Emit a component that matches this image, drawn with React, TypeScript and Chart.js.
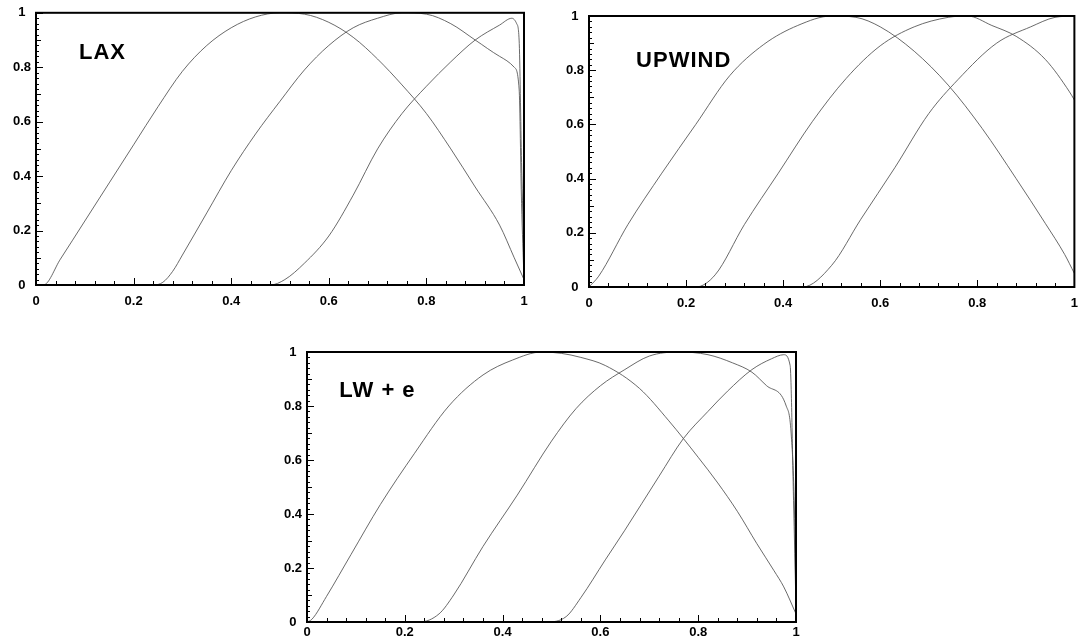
import React, { useEffect, useRef } from 'react';
import { Chart, registerables } from 'chart.js';

Chart.register(...registerables);

// ---------- tick labels ----------
const xTickValues = [0, 0.2, 0.4, 0.6, 0.8, 1];
const xTickLabels = ['0', '0.2', '0.4', '0.6', '0.8', '1'];
const yTickValues = [0, 0.2, 0.4, 0.6, 0.8, 1];
const yTickLabels = ['0', '0.2', '0.4', '0.6', '0.8', '1'];

// ---------- panel titles ----------
const panelTitles = ['LAX', 'UPWIND', 'LW + e'];

// ---------- LAX ----------
const laxAx = [0, 0.015, 0.05, 0.1, 0.15, 0.2, 0.25, 0.3, 0.35, 0.4, 0.45, 0.5, 0.55, 0.6, 0.65, 0.7, 0.75, 0.8, 0.85, 0.9, 0.95, 0.98, 1.0];
const laxAy = [0, 0.0, 0.095, 0.235, 0.375, 0.515, 0.655, 0.785, 0.88, 0.945, 0.985, 1.0, 0.995, 0.965, 0.91, 0.83, 0.735, 0.63, 0.5, 0.36, 0.22, 0.1, 0.02];
const laxBx = [0, 0.24, 0.26, 0.28, 0.3, 0.35, 0.4, 0.45, 0.5, 0.55, 0.6, 0.65, 0.7, 0.75, 0.8, 0.85, 0.9, 0.95, 0.98, 0.99, 0.995, 1.0];
const laxBy = [0, 0, 0.01, 0.05, 0.11, 0.265, 0.42, 0.555, 0.675, 0.79, 0.88, 0.945, 0.98, 1.0, 0.995, 0.96, 0.9, 0.84, 0.8, 0.72, 0.3, 0.02];
const laxCx = [0, 0.48, 0.51, 0.55, 0.6, 0.65, 0.7, 0.75, 0.8, 0.85, 0.9, 0.95, 0.975, 0.985, 0.99, 0.995, 1.0];
const laxCy = [0, 0, 0.02, 0.08, 0.18, 0.33, 0.5, 0.63, 0.73, 0.82, 0.9, 0.955, 0.98, 0.96, 0.9, 0.45, 0.1];

// ---------- UPWIND ----------
const upAx = [0, 0.02, 0.08, 0.15, 0.22, 0.29, 0.36, 0.43, 0.5, 0.55, 0.6, 0.67, 0.74, 0.81, 0.88, 0.94, 0.98, 1.0];
const upAy = [0, 0.04, 0.23, 0.42, 0.6, 0.78, 0.895, 0.965, 1.0, 0.995, 0.96, 0.87, 0.745, 0.585, 0.4, 0.235, 0.12, 0.05];
const upBx = [0, 0.22, 0.26, 0.32, 0.39, 0.46, 0.53, 0.6, 0.67, 0.74, 0.78, 0.83, 0.88, 0.94, 0.99, 1.0];
const upBy = [0, 0, 0.045, 0.23, 0.42, 0.61, 0.77, 0.89, 0.96, 0.995, 1.0, 0.965, 0.925, 0.84, 0.72, 0.69];
const upCx = [0, 0.44, 0.5, 0.56, 0.63, 0.7, 0.76, 0.84, 0.91, 0.96, 1.0];
const upCy = [0, 0, 0.08, 0.25, 0.44, 0.64, 0.765, 0.9, 0.96, 0.995, 1.0];

// ---------- LW+e ----------
const lweAx = [0, 0.01, 0.04, 0.09, 0.15, 0.22, 0.29, 0.36, 0.42, 0.48, 0.52, 0.56, 0.61, 0.68, 0.74, 0.8, 0.84, 0.88, 0.92, 0.955, 0.975, 1.0];
const lweAy = [0, 0.01, 0.095, 0.25, 0.435, 0.625, 0.8, 0.915, 0.97, 1.0, 0.995, 0.98, 0.95, 0.865, 0.745, 0.61, 0.515, 0.41, 0.29, 0.19, 0.13, 0.03];
const lweBx = [0, 0.23, 0.27, 0.3, 0.36, 0.43, 0.5, 0.55, 0.6, 0.65, 0.7, 0.76, 0.82, 0.87, 0.91, 0.94, 0.98, 0.99, 0.997, 1.0];
const lweBy = [0, 0, 0.03, 0.1, 0.28, 0.47, 0.67, 0.79, 0.875, 0.935, 0.985, 1.0, 0.99, 0.96, 0.925, 0.875, 0.8, 0.7, 0.4, 0.05];
const lweCx = [0, 0.49, 0.53, 0.56, 0.61, 0.65, 0.72, 0.77, 0.82, 0.86, 0.91, 0.95, 0.975, 0.988, 0.995, 1.0];
const lweCy = [0, 0, 0.02, 0.09, 0.23, 0.34, 0.54, 0.68, 0.78, 0.855, 0.935, 0.975, 0.99, 0.95, 0.45, 0.05];

const FONT = '"Liberation Sans", Arial, Helvetica, sans-serif';

type PanelDef = {
  title: string;
  left: number; top: number; width: number; height: number;
  padTop: number; padRight: number; yWidth: number; xHeight: number; xPad: number;
  titleAt: [number, number];
  curves: [number[], number[]][];
};

const panels: PanelDef[] = [
  { title: panelTitles[0], left: 0, top: 0, width: 540, height: 320, padTop: 12, padRight: 16, yWidth: 36, xHeight: 35, xPad: 9, titleAt: [0.088, 0.853], curves: [[laxAx, laxAy], [laxBx, laxBy], [laxCx, laxCy]] },
  { title: panelTitles[1], left: 553, top: 0, width: 534, height: 320, padTop: 16, padRight: 10, yWidth: 36, xHeight: 33, xPad: 9, titleAt: [0.097, 0.834], curves: [[upAx, upAy], [upBx, upBy], [upCx, upCy]] },
  { title: panelTitles[2], left: 271, top: 330, width: 540, height: 311, padTop: 22, padRight: 15, yWidth: 36, xHeight: 19, xPad: 3, titleAt: [0.066, 0.856], curves: [[lweAx, lweAy], [lweBx, lweBy], [lweCx, lweCy]] },
];

const xMinor: number[] = [];
for (let i = 0; i <= 25; i++) xMinor.push(i * 0.04);
const yMinor: number[] = [];
for (let i = 0; i <= 50; i++) yMinor.push(i * 0.02);

const framePlugin = {
  id: 'pawFrame',
  afterDatasetsDraw(chart: any) {
    const { ctx, chartArea: a, scales } = chart;
    const x = scales.x, y = scales.y;
    ctx.save();
    ctx.strokeStyle = '#000';
    ctx.lineWidth = 1;
    ctx.beginPath();
    xMinor.forEach((v, i) => {
      const px = Math.round(x.getPixelForValue(v)) + 0.5;
      const len = i % 5 === 0 ? 7 : 4;
      ctx.moveTo(px, a.bottom);
      ctx.lineTo(px, a.bottom - len);
    });
    yMinor.forEach((v, i) => {
      const py = Math.round(y.getPixelForValue(v)) + 0.5;
      const len = i % 10 === 0 ? 7 : i % 5 === 0 ? 5 : 3;
      ctx.moveTo(a.left, py);
      ctx.lineTo(a.left + len, py);
    });
    ctx.stroke();
    ctx.lineWidth = 2;
    ctx.strokeRect(a.left, a.top, a.right - a.left, a.bottom - a.top);
    const t = chart.options.plugins.pawFrame;
    if (t && t.title) {
      ctx.fillStyle = '#000';
      ctx.font = `bold 22px ${FONT}`;
      try { (ctx as any).letterSpacing = '1px'; } catch (e) { /* ignore */ }
      ctx.textAlign = 'left';
      ctx.textBaseline = 'middle';
      ctx.fillText(t.title, x.getPixelForValue(t.at[0]), y.getPixelForValue(t.at[1]));
    }
    ctx.restore();
  },
};

function Panel({ def }: { def: PanelDef }) {
  const ref = useRef<HTMLCanvasElement | null>(null);
  useEffect(() => {
    if (!ref.current) return;
    const datasets = def.curves.map(([xs, ys]) => ({
      data: xs.map((xv, i) => ({ x: xv, y: ys[i] })),
      borderColor: 'rgba(80,80,80,0.85)',
      borderWidth: 1,
      pointRadius: 0,
      fill: false,
      cubicInterpolationMode: 'monotone' as const,
      clip: 3,
    }));
    const chart = new Chart(ref.current, {
      type: 'line',
      data: { datasets },
      plugins: [framePlugin],
      options: {
        responsive: false,
        animation: false,
        events: [],
        layout: { padding: { top: def.padTop, right: def.padRight, left: 0, bottom: 0 } },
        plugins: {
          legend: { display: false },
          tooltip: { enabled: false },
          pawFrame: { title: def.title, at: def.titleAt },
        } as any,
        scales: {
          x: {
            type: 'linear',
            min: 0,
            max: 1,
            afterBuildTicks: (s: any) => { s.ticks = xTickValues.map((v) => ({ value: v })); },
            afterFit: (s: any) => { s.height = def.xHeight; },
            grid: { display: false, drawTicks: false },
            border: { display: false },
            ticks: {
              padding: def.xPad,
              color: '#000',
              maxRotation: 0,
              autoSkip: false,
              font: { family: FONT, size: 13, weight: 'bold' },
              callback: (v: any) => xTickLabels[xTickValues.indexOf(Number(v))] ?? '',
            },
          },
          y: {
            type: 'linear',
            min: 0,
            max: 1,
            afterBuildTicks: (s: any) => { s.ticks = yTickValues.map((v) => ({ value: v })); },
            afterFit: (s: any) => { s.width = def.yWidth; },
            grid: { display: false, drawTicks: false },
            border: { display: false },
            ticks: {
              padding: 5,
              crossAlign: 'center',
              color: '#000',
              autoSkip: false,
              font: { family: FONT, size: 13, weight: 'bold' },
              callback: (v: any) => yTickLabels[yTickValues.indexOf(Number(v))] ?? '',
            },
          },
        },
      } as any,
    });
    return () => chart.destroy();
  }, [def]);
  return (
    <canvas
      ref={ref}
      width={def.width}
      height={def.height}
      style={{ position: 'absolute', left: def.left, top: def.top, width: def.width, height: def.height }}
    />
  );
}

export default function App() {
  return (
    <div style={{ position: 'absolute', left: 0, top: 0, width: 1087, height: 641, background: '#fff', overflow: 'hidden' }}>
      {panels.map((p) => (
        <Panel key={p.title} def={p} />
      ))}
    </div>
  );
}
